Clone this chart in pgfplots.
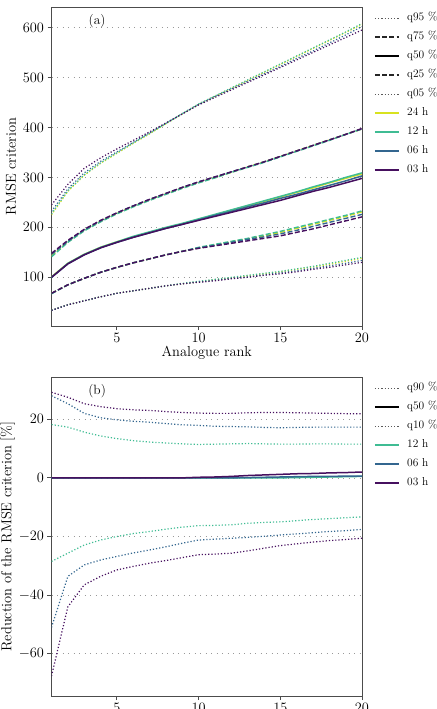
\documentclass[border=0pt]{standalone}
\usepackage{pgfplots}
\pgfplotsset{compat=1.18}
\usepackage{pgfplotstable}
\definecolor{c24}{HTML}{D8E21F}
\definecolor{c12}{HTML}{3FBC93}
\definecolor{c06}{HTML}{33668F}
\definecolor{c03}{HTML}{46105F}

% panel (a): RMSE criterion per time step
\pgfplotstableread{
x q95 q75 q50 q25 q05
1 225 143 101 68 34
2 272 171 128 85 45
3 304 194 146 98 53
4 328 212 160 110 61
5 348 228 171 120 68
6 368 242 181 129 73
7 387 255 190 137 78
8 407 267 199 145 83
9 427 279 207 152 87
10 446 290 216 159 91
11 462 300 225 165 95
12 478 310 234 171 99
13 494 321 243 177 103
14 510 331 252 183 107
15 526 342 261 190 111
16 542 353 270 198 116
17 558 364 279 206 121
18 574 375 289 214 126
19 590 386 298 222 132
20 606 397 307 231 138
}\tAtf
\pgfplotstableread{
x q95 q75 q50 q25 q05
1 227 141 100 67 34
2 273 170 128 85 45
3 305 193 146 98 53
4 329 211 160 110 61
5 349 227 171 120 68
6 369 241 182 129 73
7 388 254 191 137 78
8 408 266 200 145 83
9 428 278 208 152 88
10 447 289 217 160 92
11 463 299 226 166 96
12 479 310 235 172 100
13 495 320 244 178 104
14 511 330 253 185 108
15 527 341 262 192 112
16 543 352 271 200 117
17 559 363 281 208 122
18 575 374 290 216 128
19 591 386 300 224 134
20 608 397 309 233 140
}\tAtw
\pgfplotstableread{
x q95 q75 q50 q25 q05
1 232 146 100 68 34
2 277 172 127 85 45
3 309 195 145 98 53
4 332 213 159 110 61
5 351 229 170 120 68
6 370 243 180 129 73
7 389 256 189 137 78
8 408 268 198 145 83
9 427 280 206 152 87
10 446 291 215 159 91
11 462 301 224 164 94
12 477 311 232 170 98
13 492 321 241 176 101
14 507 331 249 181 105
15 522 342 258 187 109
16 538 353 266 194 113
17 553 364 275 202 118
18 569 375 284 210 123
19 585 386 293 218 128
20 602 397 303 226 134
}\tAsx
\pgfplotstableread{
x q95 q75 q50 q25 q05
1 245 148 100 68 34
2 286 174 127 85 45
3 318 196 145 98 53
4 339 214 159 110 61
5 357 229 170 120 68
6 374 243 180 129 73
7 391 256 189 137 78
8 409 268 198 145 83
9 427 280 206 152 87
10 445 291 214 158 90
11 460 301 222 163 93
12 475 311 230 168 97
13 490 321 238 173 100
14 505 331 246 178 104
15 520 342 254 183 107
16 535 353 263 190 111
17 550 364 272 197 116
18 565 375 280 205 120
19 580 386 289 213 125
20 595 398 298 221 130
}\tAth

% panel (b): reduction of the RMSE criterion [%]
\pgfplotstableread{
x q90 q50 q10
1 18.2 0 -28.5
2 17.3 0 -25.7
3 15.6 0 -22.9
4 14.3 0 -21.2
5 13.4 0 -20.0
6 12.7 0 -19.0
7 12.2 0 -18.3
8 11.9 0 -17.5
9 11.6 0 -16.8
10 11.4 0 -16.3
11 11.5 0 -16.2
12 11.6 0 -16.0
13 11.7 0 -15.5
14 11.6 0 -15.2
15 11.5 0 -15.0
16 11.5 0.1 -14.6
17 11.6 0.2 -14.2
18 11.6 0.3 -13.9
19 11.5 0.4 -13.6
20 11.5 0.5 -13.3
}\tBtw
\pgfplotstableread{
x q90 q50 q10
1 28.0 0 -51.0
2 25.3 0 -33.6
3 22.0 0 -29.7
4 20.5 0 -28.0
5 19.8 0 -26.8
6 19.3 0 -25.6
7 19.0 0 -24.6
8 18.5 0 -23.5
9 18.1 0 -22.3
10 17.9 0 -21.2
11 17.6 0 -20.9
12 17.5 0 -20.6
13 17.4 0.1 -20.3
14 17.2 0.2 -19.9
15 17.1 0.3 -19.5
16 17.2 0.4 -19.1
17 17.3 0.5 -18.7
18 17.3 0.5 -18.3
19 17.3 0.6 -18.0
20 17.3 0.6 -17.6
}\tBsx
\pgfplotstableread{
x q90 q50 q10
1 29.2 0 -67.6
2 27.5 0 -44.0
3 25.3 0 -36.5
4 24.3 0 -33.6
5 23.6 0 -31.4
6 23.2 0 -30.2
7 23.0 0 -29.1
8 22.6 0 -28.2
9 22.3 0 -27.2
10 22.1 0.2 -26.2
11 22.0 0.3 -26.0
12 22.0 0.5 -25.7
13 22.2 0.8 -24.9
14 22.3 1.0 -24.0
15 22.3 1.2 -23.1
16 22.2 1.4 -22.5
17 22.1 1.5 -21.9
18 22.0 1.7 -21.4
19 21.9 1.8 -21.0
20 21.9 2.0 -20.6
}\tBth

\tikzset{
  qdot/.style={line width=1.2bp, dash pattern=on 1.2bp off 2bp},
  qdash/.style={line width=1.4bp, dash pattern=on 5bp off 2.2bp},
  qsol/.style={line width=1.5bp},
}
\pgfplotsset{
  panel/.style={
    scale only axis, width=310.5bp, height=319bp,
    xmin=1, xmax=20, xtick={5,10,15,20},
    axis line style={black!70, line width=0.9bp},
    tick style={black!70, line width=0.8bp},
    tick align=outside, major tick length=4bp,
    xtick pos=bottom, ytick pos=left,
    ymajorgrids, grid style={black!40, line width=0.7bp, dash pattern=on 1bp off 4.5bp},
    tick label style={font=\fontsize{14.5}{17}\selectfont},
    label style={font=\fontsize{14.5}{17}\selectfont},
    legend cell align=left,
    legend image code/.code={\draw[##1] (0bp,0bp) -- (24bp,0bp);},
    legend style={at={(1,1)}, anchor=north west, xshift=9bp, yshift=-3bp,
      draw=none, fill=none, font=\fontsize{11.5}{13}\selectfont,
      row sep=7bp, nodes={inner sep=0.5bp, text height=8bp, text depth=3bp},
      /tikz/every odd column/.append style={column sep=7bp}},
  }
}
\newcommand{\groupA}[2]{%
  \addplot[#2, qdot, forget plot] table[x=x, y=q95] {#1};
  \addplot[#2, qdash, forget plot] table[x=x, y=q75] {#1};
  \addplot[#2, qsol, forget plot] table[x=x, y=q50] {#1};
  \addplot[#2, qdash, forget plot] table[x=x, y=q25] {#1};
  \addplot[#2, qdot, forget plot] table[x=x, y=q05] {#1};
}
\newcommand{\groupB}[2]{%
  \addplot[#2, qdot, forget plot] table[x=x, y=q90] {#1};
  \addplot[#2, qsol, forget plot] table[x=x, y=q50] {#1};
  \addplot[#2, qdot, forget plot] table[x=x, y=q10] {#1};
}

\begin{document}
\begin{tikzpicture}
\useasboundingbox (0,0) rectangle (437bp,-709bp);
\begin{axis}[panel, at={(51.5bp,-326bp)}, anchor=south west,
  ymin=2.6, ymax=641, ytick={100,200,300,400,500,600},
  xlabel={Analogue rank}, xlabel style={yshift=3bp}, ylabel={RMSE criterion}]
\addlegendimage{black!65, qdot}\addlegendentry{q95 \%}
\addlegendimage{black!85, qdash}\addlegendentry{q75 \%}
\addlegendimage{black, qsol}\addlegendentry{q50 \%}
\addlegendimage{black!85, qdash}\addlegendentry{q25 \%}
\addlegendimage{black!65, qdot}\addlegendentry{q05 \%}
\addlegendimage{c24, qsol}\addlegendentry{24 h}
\addlegendimage{c12, qsol}\addlegendentry{12 h}
\addlegendimage{c06, qsol}\addlegendentry{06 h}
\addlegendimage{c03, qsol}\addlegendentry{03 h}
\groupA{\tAtf}{c24}
\groupA{\tAtw}{c12}
\groupA{\tAsx}{c06}
\groupA{\tAth}{c03}
\node[font=\fontsize{13.5}{16}\selectfont] at (rel axis cs:0.147,0.955) {(a)};
\end{axis}
\begin{axis}[panel, at={(51.5bp,-696bp)}, anchor=south west,
  ymin=-74.4, ymax=34.4, ytick={-60,-40,-20,0,20},
  ylabel={Reduction of the RMSE criterion [\%]}, ylabel style={yshift=-3bp}]
\addlegendimage{black!65, qdot}\addlegendentry{q90 \%}
\addlegendimage{black, qsol}\addlegendentry{q50 \%}
\addlegendimage{black!65, qdot}\addlegendentry{q10 \%}
\addlegendimage{c12, qsol}\addlegendentry{12 h}
\addlegendimage{c06, qsol}\addlegendentry{06 h}
\addlegendimage{c03, qsol}\addlegendentry{03 h}
\groupB{\tBtw}{c12}
\groupB{\tBsx}{c06}
\groupB{\tBth}{c03}
\node[font=\fontsize{13.5}{16}\selectfont] at (rel axis cs:0.147,0.955) {(b)};
\end{axis}
\end{tikzpicture}
\end{document}
